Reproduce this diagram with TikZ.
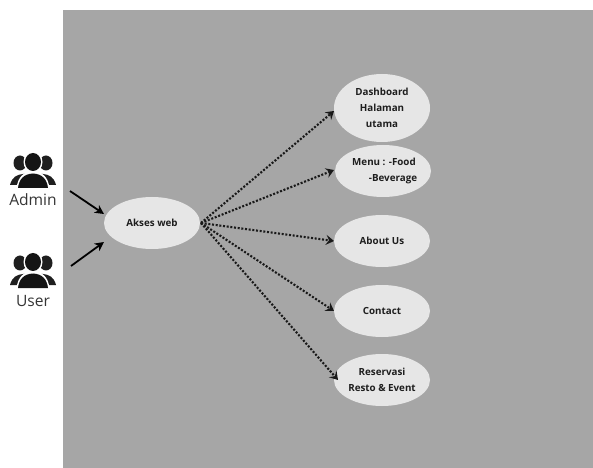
\documentclass[tikz,border=0pt]{standalone}
\usepackage{fontspec}
\setmainfont{Open Sans}
\usetikzlibrary{shapes.geometric,arrows.meta}
\definecolor{panel}{HTML}{A6A6A6}
\definecolor{bubble}{HTML}{E6E6E6}
\definecolor{ink}{HTML}{1E1E1E}
\tikzset{
  x=1bp,y=-1bp,
  usecase/.style={ellipse,fill=bubble,draw=none,inner sep=0pt,minimum width=96bp,minimum height=52bp,align=center,font=\bfseries\fontsize{9.8bp}{16bp}\selectfont,text=ink},
  actor/.style={font=\fontsize{15.6bp}{17bp}\selectfont,text=ink!90,inner sep=0pt},
  solidarrow/.style={-{Stealth[length=9bp,width=9bp,inset=2.5bp]},line width=1.8bp,draw=black},
  dotarrow/.style={-{Stealth[length=8bp,width=10bp,inset=3bp]},line width=2.1bp,draw=black!90,dash pattern=on 2bp off 1.7bp},
  people/.pic={
    \fill[black!88] (-13,-8) circle[x radius=6.5,y radius=7.5];
    \fill[black!88] (13,-8) circle[x radius=6.5,y radius=7.5];
    \fill[black!88] (-23,14) .. controls (-21,6) and (-16,3.5) .. (-10,3) -- (10,3) .. controls (16,3.5) and (21,6) .. (23,14) -- cycle;
    \fill[white] (-16.5,17) .. controls (-15,6) and (-10,1) .. (0,0) .. controls (10,1) and (15,6) .. (16.5,17) -- cycle;
    \fill[white] (0,-9) circle[x radius=9.5,y radius=10.5];
    \fill[black!92] (0,-9) circle[x radius=8,y radius=9];
    \fill[black!92] (-15,17) .. controls (-14,8) and (-9,3) .. (0,2.5) .. controls (9,3) and (14,8) .. (15,17) -- cycle;
  }
}
\begin{document}
\begin{tikzpicture}
\useasboundingbox (0,0) rectangle (593,468);
\fill[white] (0,0) rectangle (593,468);
\fill[panel] (63,10) rectangle (593,468);
\pic at (33,171) {people};
\pic at (33,271) {people};
\node[actor] (admin) at (33,200) {Admin};
\node[actor] (user) at (33,301) {User};
\coordinate (adminEnd) at (70,191);
\coordinate (userEnd) at (71,266);
\node[usecase] (akses) at (152,223) {Akses web};
\node[usecase,minimum height=68bp] (dash) at (382,108) {Dashboard\\Halaman\\utama};
\node[usecase] (menu) at (383,171) {\makebox[0pt]{\hspace*{2bp}Menu : -Food}\\\makebox[0pt]{\hspace*{20bp}-Beverage}};
\node[usecase] (about) at (382,241) {About Us};
\node[usecase] (contact) at (382,311) {Contact};
\node[usecase] (resv) at (382,380) {Reservasi\\Resto \& Event};
\draw[solidarrow] (adminEnd) -- (104,214);
\draw[solidarrow] (userEnd) -- (104,242);
\coordinate (hub) at (201,223);
\draw[dotarrow] (hub) -- (334,111);
\draw[dotarrow] (hub) -- (334,170);
\draw[dotarrow] (hub) -- (334,241);
\draw[dotarrow] (hub) -- (334,311);
\draw[dotarrow] (hub) -- (338,380);
\end{tikzpicture}
\end{document}
